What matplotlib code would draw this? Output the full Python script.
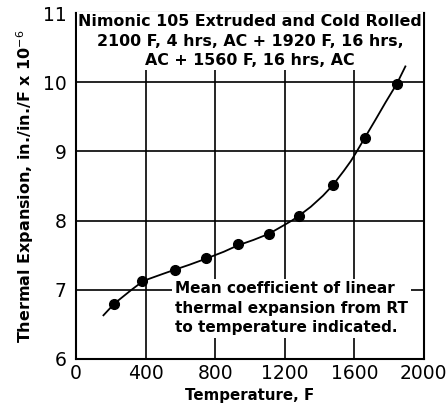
import numpy as np
import matplotlib
matplotlib.use('Agg')
import matplotlib.pyplot as plt

# plt settings
plt.rcParams['font.family'] = ['DejaVu Sans']

# measured points (temperature F, mean CTE in./in./F x 1e-6)
temp_pts = [220, 377, 568, 748, 929, 1110, 1282, 1476, 1661, 1845]
cte_pts = [6.80, 7.13, 7.29, 7.46, 7.66, 7.80, 8.07, 8.51, 9.20, 9.97]

# faired curve
temp_curve = [157, 220, 319, 377, 400, 500, 568, 650, 748, 850, 929, 1020, 1110,
              1200, 1241, 1282, 1350, 1420, 1476, 1540, 1580, 1612, 1661, 1720, 1780, 1845, 1894]
cte_curve = [6.63, 6.80, 7.00, 7.11, 7.14, 7.23, 7.29, 7.36, 7.45, 7.55, 7.64, 7.72, 7.81,
             7.94, 8.00, 8.07, 8.20, 8.36, 8.51, 8.72, 8.86, 8.99, 9.20, 9.45, 9.71, 9.98, 10.23]

x_ticks = [0, 400, 800, 1200, 1600, 2000]
y_ticks = [6, 7, 8, 9, 10, 11]

title = 'Nimonic 105 Extruded and Cold Rolled\n2100 F, 4 hrs, AC + 1920 F, 16 hrs,\nAC + 1560 F, 16 hrs, AC'
note = 'Mean coefficient of linear\nthermal expansion from RT\nto temperature indicated.'

fig = plt.figure(figsize=(4.48, 4.12), dpi=100)
ax = fig.add_axes([0.170, 0.129, 0.776, 0.839])

ax.plot(temp_curve, cte_curve, color='black', lw=1.3, zorder=4)
ax.plot(temp_pts, cte_pts, 'o', color='black', ms=7, zorder=5)

ax.set_xlim(0, 2000)
ax.set_ylim(6, 11)
ax.set_xticks(x_ticks)
ax.set_yticks(y_ticks)
ax.tick_params(labelsize=13.5, length=0)
ax.tick_params(axis='x', pad=4)
ax.tick_params(axis='y', pad=7)
ax.grid(True, color='black', lw=1.2)
ax.set_axisbelow(True)
for s in ax.spines.values():
    s.set_linewidth(1.5)

ax.set_xlabel('Temperature, F', fontsize=10.8, fontweight='bold', labelpad=3)
ax.set_ylabel('Thermal Expansion, in./in./F x 10$^{-6}$', fontsize=11.5,
              fontweight='bold', labelpad=5)

ax.text(1000, 10.99, title, ha='center', va='top', fontsize=11.4,
        fontweight='bold', linespacing=1.4, zorder=3,
        bbox=dict(facecolor='white', edgecolor='none', pad=1))
ax.text(570, 7.12, note, ha='left', va='top', fontsize=11,
        fontweight='bold', linespacing=1.35, zorder=3,
        bbox=dict(facecolor='white', edgecolor='none', pad=2))

fig.savefig('out.png', dpi=100)
